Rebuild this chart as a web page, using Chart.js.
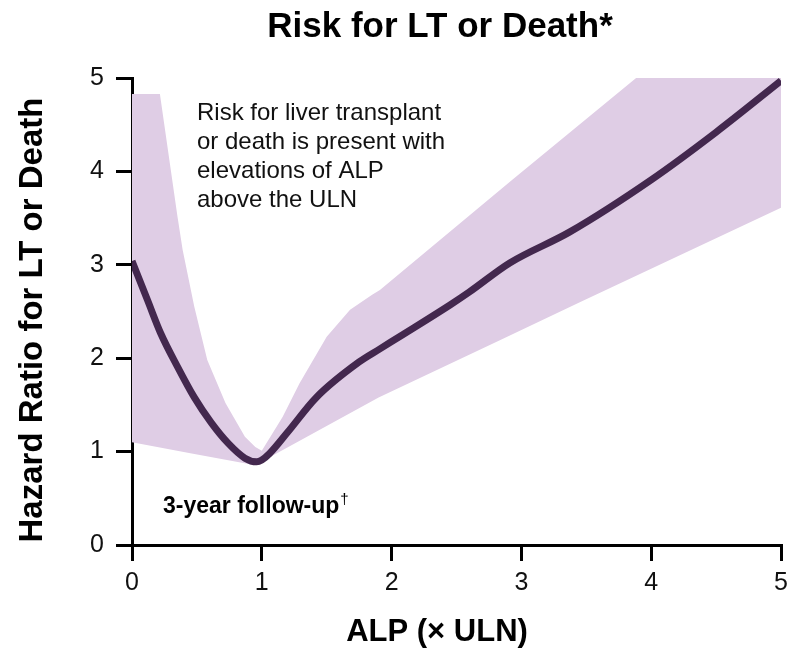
<!DOCTYPE html>
<html>
<head>
<meta charset="utf-8">
<script src="https://cdn.jsdelivr.net/npm/chart.js@4/dist/chart.umd.min.js"></script>
<style>
  html, body { margin: 0; padding: 0; background: #ffffff; }
  #wrap { width: 789px; height: 649px; }
</style>
</head>
<body>
<div id="wrap"><canvas id="chart" width="789" height="649"></canvas></div>
<script>
// ALP (x ULN) positions and hazard ratio estimates
const curveX = [0, 0.12, 0.22, 0.35, 0.48, 0.61, 0.74, 0.87, 0.96, 1.0, 1.06, 1.2, 1.42, 1.75, 1.91, 2.06, 2.45, 2.6, 2.91, 3.37, 4.0, 4.5, 5.0];
const curveHR = [3.04, 2.62, 2.27, 1.91, 1.58, 1.31, 1.09, 0.93, 0.89, 0.91, 0.98, 1.21, 1.58, 1.96, 2.10, 2.23, 2.57, 2.71, 3.02, 3.35, 3.91, 4.42, 4.97];

// Upper bound of the confidence band
const upperX = [0, 0.215, 0.35, 0.39, 0.48, 0.58, 0.72, 0.87, 0.95, 1.0, 1.16, 1.29, 1.5, 1.68, 1.85, 1.91, 2.93, 3.91, 5.0];
const upperHR = [4.83, 4.83, 3.52, 3.16, 2.55, 1.98, 1.52, 1.16, 1.05, 1.01, 1.37, 1.73, 2.23, 2.52, 2.68, 2.73, 3.91, 5.03, 5.03];

// Lower bound of the confidence band
const lowerX = [0, 0.46, 0.93, 1.0, 1.06, 1.9, 2.83, 3.45, 5.0];
const lowerHR = [1.1, 0.98, 0.86, 0.9, 0.94, 1.58, 2.19, 2.6, 3.61];

const xTicks = [0, 1, 2, 3, 4, 5];
const yTicks = [0, 1, 2, 3, 4, 5];

const chartTitle = 'Risk for LT or Death*';
const xTitle = 'ALP (\u00d7 ULN)';
const yTitle = 'Hazard Ratio for LT or Death';
const noteLines = ['Risk for liver transplant', 'or death is present with', 'elevations of ALP', 'above the ULN'];
const followUp = '3-year follow-up';

const FONT = '"Liberation Sans", Arial, Helvetica, sans-serif';
const LINE_COLOR = '#43284e';
const BAND_COLOR = '#dfcde5';

const pts = (xs, ys) => xs.map((x, i) => ({ x: x, y: ys[i] }));

// Titles and in-plot notes
const textPlugin = {
  id: 'chartText',
  afterDraw(chart) {
    const ctx = chart.ctx;
    ctx.save();
    ctx.fillStyle = '#000';

    ctx.font = 'bold 35px ' + FONT;
    ctx.textAlign = 'center';
    ctx.textBaseline = 'middle';
    ctx.fillText(chartTitle, 440, 27);

    ctx.font = 'bold 31px ' + FONT;
    ctx.fillText(xTitle, 437, 632);

    ctx.save();
    ctx.font = 'bold 33px ' + FONT;
    ctx.translate(33, 320);
    ctx.rotate(-Math.PI / 2);
    ctx.fillText(yTitle, 0, 0);
    ctx.restore();

    ctx.font = '24px ' + FONT;
    ctx.textAlign = 'left';
    ctx.fillStyle = '#111';
    noteLines.forEach((line, i) => ctx.fillText(line, 197, 113 + i * 29));

    ctx.fillStyle = '#000';
    ctx.font = 'bold 23px ' + FONT;
    ctx.fillText(followUp, 163, 507);
    const w = ctx.measureText(followUp).width;
    ctx.font = '15px ' + FONT;
    ctx.fillText('\u2020', 163 + w + 1, 500);
    ctx.restore();
  }
};

const axisCommon = {
  type: 'linear',
  min: 0,
  max: 5,
  grid: {
    display: true,
    drawOnChartArea: false,
    drawTicks: true,
    tickLength: 16,
    tickWidth: 3,
    tickColor: '#000',
    lineWidth: 3,
    color: '#000'
  },
  border: { display: true, width: 3, color: '#000' },
  title: { display: false }
};

new Chart(document.getElementById('chart'), {
  type: 'line',
  data: {
    datasets: [
      {
        label: 'Hazard ratio',
        data: pts(curveX, curveHR),
        borderColor: LINE_COLOR,
        borderWidth: 7,
        pointRadius: 0,
        fill: false,
        cubicInterpolationMode: 'monotone',
        order: 0
      },
      {
        label: 'Upper bound',
        data: pts(upperX, upperHR),
        borderWidth: 0,
        borderColor: 'rgba(0,0,0,0)',
        backgroundColor: BAND_COLOR,
        pointRadius: 0,
        tension: 0,
        fill: '+1',
        clip: false,
        order: 1
      },
      {
        label: 'Lower bound',
        data: pts(lowerX, lowerHR),
        borderWidth: 0,
        borderColor: 'rgba(0,0,0,0)',
        pointRadius: 0,
        tension: 0,
        fill: false,
        order: 2
      }
    ]
  },
  options: {
    responsive: false,
    animation: false,
    events: [],
    layout: { padding: { top: 78, right: 8, left: 0, bottom: 0 } },
    plugins: {
      legend: { display: false },
      tooltip: { enabled: false },
      title: { display: false }
    },
    scales: {
      x: Object.assign({}, axisCommon, {
        afterFit(scale) {
          scale.height = 104;
          scale.paddingLeft = 0;
          scale.paddingRight = 0;
        },
        afterBuildTicks(scale) { scale.ticks = xTicks.map(v => ({ value: v })); },
        ticks: { color: '#111', padding: 7, font: { family: FONT, size: 25 }, maxRotation: 0 }
      }),
      y: Object.assign({}, axisCommon, {
        afterFit(scale) {
          scale.width = 132;
          scale.paddingTop = 0;
          scale.paddingBottom = 0;
        },
        afterBuildTicks(scale) { scale.ticks = yTicks.map(v => ({ value: v })); },
        ticks: { color: '#111', padding: 12, font: { family: FONT, size: 25 } }
      })
    }
  },
  plugins: [textPlugin]
});
</script>
</body>
</html>
